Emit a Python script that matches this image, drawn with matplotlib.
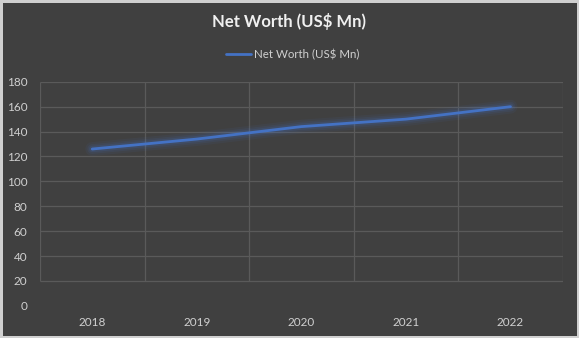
import matplotlib.pyplot as plt
import numpy as np

years = ['2018', '2019', '2020', '2021', '2022']
net_worth = [126, 134, 144, 150, 160]
series_name = 'Net Worth (US$ Mn)'
y_ticks = [0, 20, 40, 60, 80, 100, 120, 140, 160, 180]

bg = '#404040'
grid_col = '#5a5a5a'
line_col = '#4472c4'
plt.rcParams['font.family'] = ['Lato', 'DejaVu Sans']

fig = plt.figure(figsize=(5.79, 3.38), dpi=100)
fig.patch.set_facecolor(bg)
fig.patch.set_edgecolor('#d0d0d0')
fig.patch.set_linewidth(2.5)
ax = fig.add_axes([0.069, 0.095, 0.903, 0.663])
ax.set_facecolor(bg)

x = np.arange(len(years))

# gridlines (Excel style, between categories)
for yv in y_ticks[1:]:
    ax.hlines(yv, -0.5, len(years) - 0.5, color=grid_col, lw=0.9, zorder=1)
for xv in np.arange(-0.5, len(years), 1.0):
    ax.vlines(xv, 20, 180, color=grid_col, lw=0.9, zorder=1)

# soft glow behind the line
for w, a in [(10, 0.07), (7, 0.1), (4.5, 0.16)]:
    ax.plot(x, net_worth, color=line_col, lw=w, alpha=a, solid_capstyle='round', zorder=2)
ax.plot(x, net_worth, color=line_col, lw=2, solid_capstyle='round', zorder=3, label=series_name)

ax.set_xlim(-0.5, len(years) - 0.5)
ax.set_ylim(0, 180)
ax.set_xticks(x)
ax.set_xticklabels(years)
ax.set_yticks(y_ticks)
ax.tick_params(colors='#d0d0d0', labelsize=8.5, length=0, pad=8)
ax.tick_params(axis='y', pad=9)
for s in ax.spines.values():
    s.set_visible(False)

fig.text(0.5, 0.935, series_name, ha='center', va='center', color='#f0f0f0',
         fontsize=12, fontweight='bold')
fig.legend(handles=ax.get_lines()[-1:], loc='center', bbox_to_anchor=(0.505, 0.838),
           frameon=False, fontsize=8.3, labelcolor='#d0d0d0', handlelength=2.2,
           handletextpad=0.2)

fig.savefig('out.png', dpi=100, facecolor=bg, edgecolor='#d0d0d0')
